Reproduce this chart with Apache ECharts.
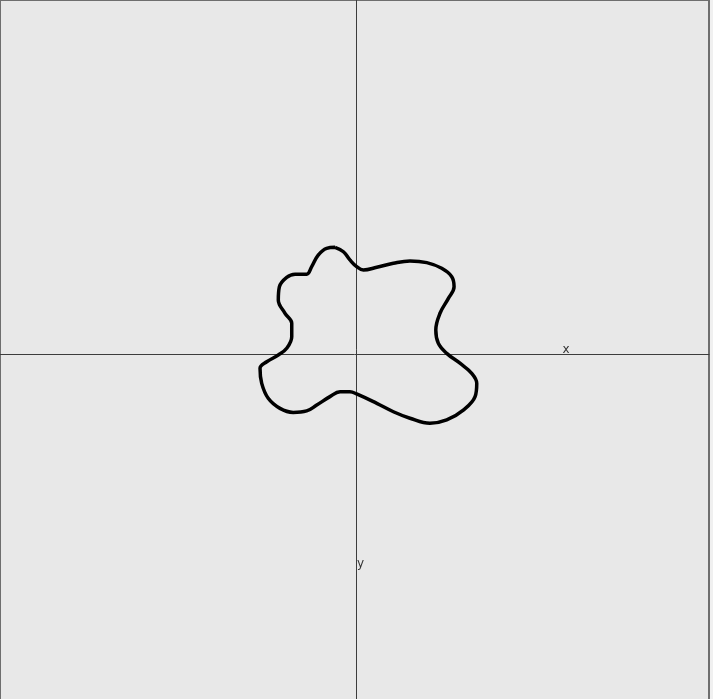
<!DOCTYPE html>
<html>
<head>
<meta charset="utf-8">
<style>
html,body{margin:0;padding:0;background:#f0f0f0;}
#c{width:713px;height:699px;}
</style>
<script src="https://cdn.jsdelivr.net/npm/echarts@6/dist/echarts.min.js"></script>
</head>
<body>
<div id="c"></div>
<script>
// closed curve points (x, y) — y axis points downward
const curveX = [-0.100,-0.060,-0.029,0.003,0.035,0.099,0.178,0.257,0.337,0.408,0.456,0.467,0.440,0.400,0.380,0.392,0.432,0.495,0.551,0.575,0.567,0.511,0.432,0.352,0.257,0.178,0.099,0.003,-0.029,-0.076,-0.124,-0.187,-0.235,-0.299,-0.362,-0.418,-0.449,-0.457,-0.425,-0.370,-0.330,-0.306,-0.306,-0.338,-0.370,-0.365,-0.330,-0.290,-0.235,-0.211,-0.180,-0.140];
const curveY = [-0.508,-0.487,-0.448,-0.416,-0.400,-0.413,-0.432,-0.443,-0.435,-0.408,-0.368,-0.320,-0.265,-0.194,-0.114,-0.051,-0.003,0.044,0.092,0.140,0.203,0.267,0.314,0.330,0.306,0.275,0.235,0.190,0.180,0.180,0.203,0.243,0.271,0.278,0.259,0.211,0.140,0.068,0.037,0.005,-0.027,-0.082,-0.146,-0.194,-0.257,-0.320,-0.365,-0.380,-0.380,-0.416,-0.471,-0.503];
const axisLabels = [{name:'x', x:1, y:0}, {name:'y', x:0, y:1}];

const pts = curveX.map((v,i)=>[v, curveY[i]]);
pts.push(pts[0]);

const chart = echarts.init(document.getElementById('c'), null, {renderer:'canvas'});
chart.setOption({
  backgroundColor:'#f0f0f0',
  animation:false,
  grid:{left:0, top:0, width:709, height:710, outerBoundsMode:'none', containLabel:false,
    show:true, backgroundColor:'#e8e8e8', borderColor:'#6e6e6e', borderWidth:2},
  xAxis:{type:'value', min:-356/210, max:353/210,
    axisLine:{onZero:true, lineStyle:{color:'#3c3c3c', width:1}},
    axisTick:{show:false}, axisLabel:{show:false}, splitLine:{show:false}},
  yAxis:{type:'value', inverse:true, min:-354/210, max:356/210,
    axisLine:{onZero:true, lineStyle:{color:'#3c3c3c', width:1}},
    axisTick:{show:false}, axisLabel:{show:false}, splitLine:{show:false}},
  series:[
    {type:'line', data:pts, smooth:0.4, symbol:'none',
     lineStyle:{color:'#000', width:3.5}},
    {type:'scatter', symbolSize:0, silent:true,
     data:[
       {value:[axisLabels[0].x, axisLabels[0].y], name:axisLabels[0].name, label:{position:'top', distance:-2}},
       {value:[axisLabels[1].x, axisLabels[1].y], name:axisLabels[1].name, label:{position:'right', distance:1}}
     ],
     label:{show:true, formatter:p=>p.name, color:'#000', fontSize:12, fontFamily:'DejaVu Sans'}}
  ]
});
</script>
</body>
</html>
